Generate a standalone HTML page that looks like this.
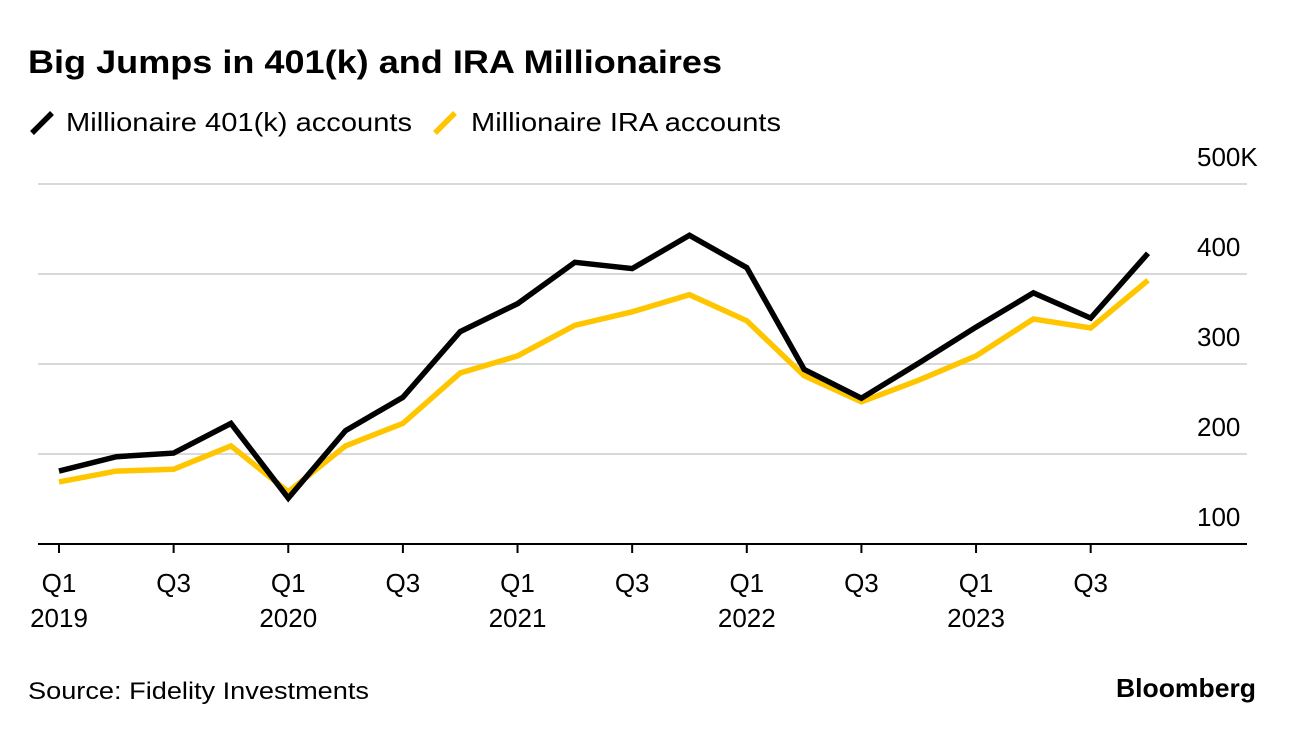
<!DOCTYPE html>
<html><head><meta charset="utf-8"><style>
html,body{margin:0;padding:0;background:#fff;}
body{width:1296px;height:732px;overflow:hidden;font-family:"Liberation Sans",sans-serif;}
</style></head><body>
<svg id="chart" width="1296" height="732" xmlns="http://www.w3.org/2000/svg" font-family="Liberation Sans, sans-serif">
<text x="28" y="73" font-size="32" font-weight="bold" fill="#000" textLength="694" lengthAdjust="spacingAndGlyphs">Big Jumps in 401(k) and IRA Millionaires</text>
<g>
<line x1="32" y1="133" x2="52" y2="113" stroke="#000" stroke-width="5.5"/>
<text x="66" y="131" font-size="26" fill="#000" textLength="346" lengthAdjust="spacingAndGlyphs">Millionaire 401(k) accounts</text>
<line x1="435" y1="133" x2="455" y2="113" stroke="#FFC600" stroke-width="5.5"/>
<text x="471" y="131" font-size="26" fill="#000" textLength="310" lengthAdjust="spacingAndGlyphs">Millionaire IRA accounts</text>
</g>
<g id="grid"></g><g id="xaxis"></g><g id="lines"></g>
<text x="28" y="699" font-size="24" fill="#000" textLength="341" lengthAdjust="spacingAndGlyphs">Source: Fidelity Investments</text>
<text x="1116" y="697" font-size="26" font-weight="bold" fill="#000" textLength="140" lengthAdjust="spacingAndGlyphs">Bloomberg</text>
</svg>
<script>
const quarters = ["Q1 2019","Q2 2019","Q3 2019","Q4 2019","Q1 2020","Q2 2020","Q3 2020","Q4 2020","Q1 2021","Q2 2021","Q3 2021","Q4 2021","Q1 2022","Q2 2022","Q3 2022","Q4 2022","Q1 2023","Q2 2023","Q3 2023","Q4 2023"];
const k401 = [181,197,201,234,151,226,263,336,367,413,406,443,407,294,262,301,341,379,351,423];
const ira = [169,181,183,209,158,209,234,290,309,343,358,377,348,287,258,282,309,350,340,393];
const yTicks = [100,200,300,400,500];
const yTickLabels = ["100","200","300","400","500K"];
const xTickIdx = [0,2,4,6,8,10,12,14,16,18];
const xTickTop = ["Q1","Q3","Q1","Q3","Q1","Q3","Q1","Q3","Q1","Q3"];
const xTickBottom = ["2019","","2020","","2021","","2022","","2023",""];

const NS="http://www.w3.org/2000/svg";
const x = i => 59 + i*(1148-59)/19;
const y = v => 544 - (v-100)*0.9;
function mk(tag, attrs, parent, txt){const e=document.createElementNS(NS,tag);for(const k in attrs)e.setAttribute(k,attrs[k]);if(txt!==undefined)e.textContent=txt;parent.appendChild(e);return e;}
const grid=document.getElementById('grid');
yTicks.forEach((v,i)=>{
  if(v!==100){const l=mk('line',{x1:38,x2:1247,y1:y(v),y2:y(v),stroke:'#d9d9d9','stroke-width':2},grid);
  
  }
  const t=mk('text',{x:1197,y:y(v)-18,'font-size':26,fill:'#000'},grid,yTickLabels[i]);
  
  
});
const xa=document.getElementById('xaxis');
const base=mk('line',{x1:38,x2:1247,y1:544,y2:544,stroke:'#000','stroke-width':2},xa);


xTickIdx.forEach((qi,i)=>{
  const tk=mk('line',{x1:x(qi),x2:x(qi),y1:544,y2:553,stroke:'#000','stroke-width':2},xa);
  
  
  const t=mk('text',{x:x(qi),y:592,'font-size':26,'text-anchor':'middle',fill:'#000'},xa,xTickTop[i]);
  
  
  if(xTickBottom[i]){const t2=mk('text',{x:x(qi),y:627,'font-size':26,'text-anchor':'middle',fill:'#000'},xa,xTickBottom[i]);
  
  }
});
const lg=document.getElementById('lines');
function series(vals,color,name){
  const p=mk('polyline',{points:vals.map((v,i)=>x(i)+','+y(v)).join(' '),fill:'none',stroke:color,'stroke-width':5.5,'stroke-linejoin':'miter'},lg);
  
  
}
series(ira,'#FFC600','ira-line');
series(k401,'#000','401k-line');
</script>
</body></html>
